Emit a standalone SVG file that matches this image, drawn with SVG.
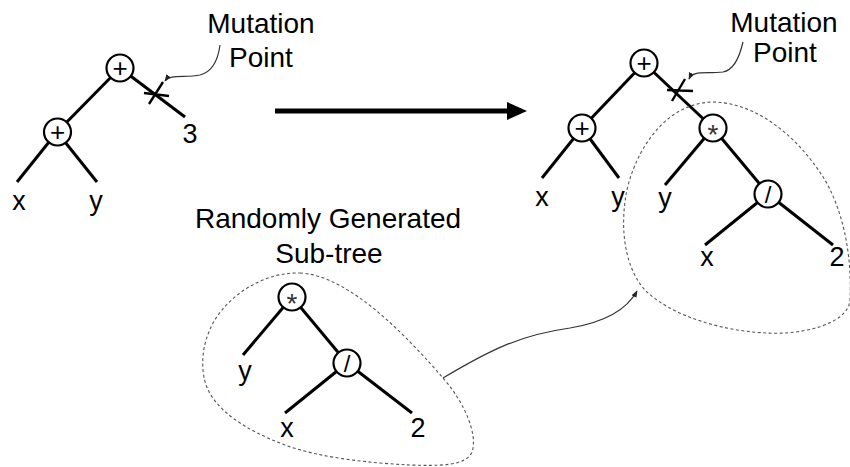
<svg xmlns="http://www.w3.org/2000/svg" width="850" height="467" viewBox="0 0 850 467">
<style>
.edge{stroke:#000;stroke-width:3;fill:none;stroke-linecap:butt}
.node{fill:#fff;stroke:#000;stroke-width:2.2}
.lbl{font-family:"Liberation Sans",Arial,sans-serif;font-size:27px;fill:#000;text-anchor:middle}
.ann{font-family:"Liberation Sans",Arial,sans-serif;font-size:28px;fill:#000;text-anchor:middle}
.op{font-family:"Liberation Sans",Arial,sans-serif;fill:#000;text-anchor:middle}
.plus{font-size:26px}
.star{font-size:28px;fill:#333}
.slash{font-size:24px}
.blob{fill:none;stroke:#555;stroke-width:1.1;stroke-dasharray:3 2.5}
.thin{fill:none;stroke:#333;stroke-width:1.2}
.cross{stroke:#000;stroke-width:2.4;fill:none}
</style>
<defs>
<marker id="small" viewBox="0 0 10 10" refX="9" refY="5" markerWidth="7" markerHeight="7" orient="auto" markerUnits="userSpaceOnUse">
<path d="M0,1 L10,5 L0,9 Z" fill="#222"/>
</marker>
</defs>

<g id="connectors">
<line class="edge" x1="120" y1="68" x2="57" y2="132"/>
<line class="edge" x1="120" y1="68" x2="185" y2="117"/>
<line class="edge" x1="57" y1="132" x2="17" y2="182"/>
<line class="edge" x1="57" y1="132" x2="97" y2="182"/>
<line class="edge" x1="644" y1="63" x2="582" y2="128"/>
<line class="edge" x1="644" y1="63" x2="713" y2="128"/>
<line class="edge" x1="582" y1="128" x2="542" y2="178"/>
<line class="edge" x1="582" y1="128" x2="619" y2="178"/>
<line class="edge" x1="713" y1="128" x2="665" y2="185"/>
<line class="edge" x1="713" y1="128" x2="768" y2="194"/>
<line class="edge" x1="768" y1="194" x2="705" y2="245"/>
<line class="edge" x1="768" y1="194" x2="833" y2="245"/>
<line class="edge" x1="292" y1="297" x2="243" y2="355"/>
<line class="edge" x1="292" y1="297" x2="347" y2="363"/>
<line class="edge" x1="347" y1="363" x2="285" y2="413"/>
<line class="edge" x1="347" y1="363" x2="412" y2="413"/>
<path class="cross" d="M144,93 L169,96 M149,104 L163,82"/>
<path class="cross" d="M667,90 L693,91 M672,101 L685,79"/>
<path class="thin" d="M220,45 C218,60 212,72 200,75 C185,78 170,74 165,81" marker-end="url(#small)"/>
<path class="thin" d="M743,42 C740,55 735,70 723,72 C705,74 693,70 689,79" marker-end="url(#small)"/>
<line x1="275" y1="111" x2="509" y2="111" stroke="#000" stroke-width="5"/>
<polygon points="507,102 527,111 507,120" fill="#000"/>
<path class="blob" d="M300,273 C350,275 410,340 443,378 C465,403 478,435 472,452 C466,466 440,466 410,465 C370,463 320,458 285,445 C245,430 215,410 206,385 C198,360 205,330 222,310 C240,288 270,272 300,273 Z"/>
<path class="blob" d="M713,102 C760,103 800,140 825,180 C845,215 852,260 850,300 C848,325 800,335 767,333 C720,331 670,315 645,290 C625,268 620,230 626,195 C632,160 660,103 713,102 Z"/>
<path class="thin" d="M443,378 C490,350 520,335 570,328 C600,323 625,313 637,291" marker-end="url(#small)"/>
</g>

<g id="left-root"><circle class="node" cx="120" cy="68" r="13.5"/><text class="op plus" x="120" y="77">+</text></g>
<g id="left-plus"><circle class="node" cx="57.5" cy="132" r="13.5"/><text class="op plus" x="57.5" y="141">+</text></g>
<g id="left-x"><text class="lbl" x="19" y="210">x</text></g>
<g id="left-y"><text class="lbl" x="96" y="210">y</text></g>
<g id="left-3"><text class="lbl" x="190" y="143">3</text></g>
<g id="left-mutation"><text class="ann" x="261" y="33">Mutation</text><text class="ann" x="261" y="67">Point</text></g>

<g id="right-root"><circle class="node" cx="644" cy="63" r="13.5"/><text class="op plus" x="644" y="72">+</text></g>
<g id="right-plus"><circle class="node" cx="582" cy="128" r="13.5"/><text class="op plus" x="582" y="137">+</text></g>
<g id="right-star"><circle class="node" cx="713" cy="128" r="13.5"/><text class="op star" x="713" y="144">*</text></g>
<g id="right-div"><circle class="node" cx="768" cy="194" r="13.5"/><text class="op slash" x="768" y="203">/</text></g>
<g id="right-x1"><text class="lbl" x="542" y="206">x</text></g>
<g id="right-y1"><text class="lbl" x="618" y="206">y</text></g>
<g id="right-y2"><text class="lbl" x="665" y="207">y</text></g>
<g id="right-x2"><text class="lbl" x="707" y="266">x</text></g>
<g id="right-2"><text class="lbl" x="837" y="266">2</text></g>
<g id="right-mutation"><text class="ann" x="784" y="32">Mutation</text><text class="ann" x="785" y="62">Point</text></g>

<g id="sub-title"><text class="ann" x="328" y="228">Randomly Generated</text><text class="ann" x="329" y="263">Sub-tree</text></g>
<g id="sub-star"><circle class="node" cx="292" cy="297" r="13.5"/><text class="op star" x="292" y="313">*</text></g>
<g id="sub-div"><circle class="node" cx="347" cy="363" r="13.5"/><text class="op slash" x="347" y="372">/</text></g>
<g id="sub-y"><text class="lbl" x="245" y="380">y</text></g>
<g id="sub-x"><text class="lbl" x="287" y="437">x</text></g>
<g id="sub-2"><text class="lbl" x="418" y="437">2</text></g>
</svg>
